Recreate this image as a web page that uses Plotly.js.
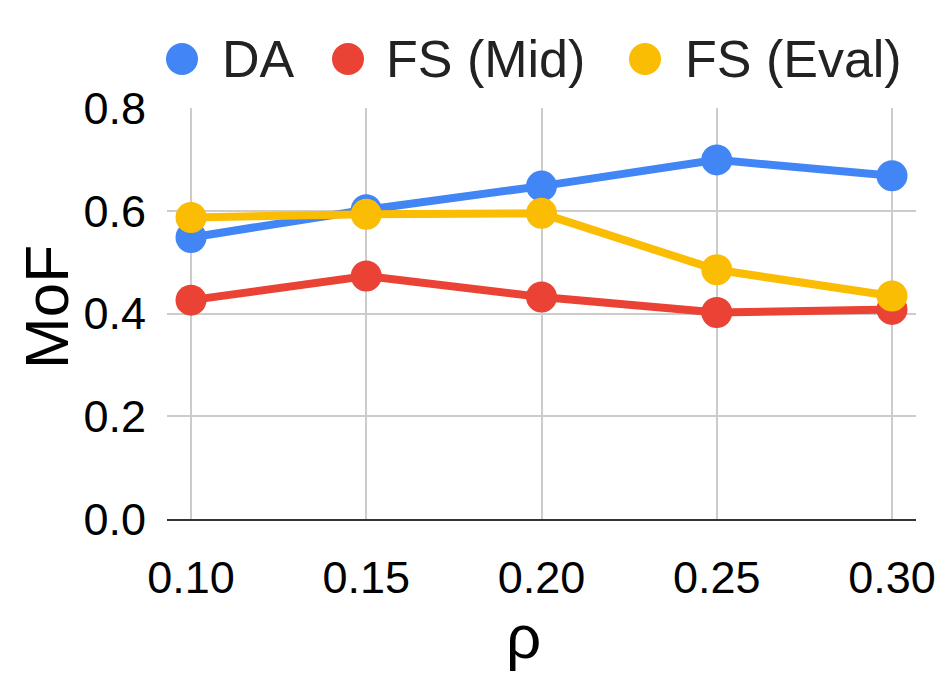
<!DOCTYPE html>
<html>
<head>
<meta charset="utf-8">
<script src="https://cdn.plot.ly/plotly-3.0.1.min.js"></script>
<style>
  html, body { margin: 0; padding: 0; background: #fff; }
  #chart { width: 952px; height: 673px; }
</style>
</head>
<body>
<div id="chart"></div>
<script>
// rho values on the x axis
var rho = ['0.10', '0.15', '0.20', '0.25', '0.30']

var seriesNames = ['DA', 'FS (Mid)', 'FS (Eval)']
var da = [0.548, 0.602, 0.648, 0.699, 0.668]
var fsMid = [0.426, 0.473, 0.432, 0.402, 0.408]
var fsEval = [0.587, 0.593, 0.595, 0.485, 0.434]

var xTitle = 'ρ'
var yTitle = 'MoF'

var colors = ['#4285F4', '#EA4335', '#FBBC04']
var font = 'Liberation Sans, Arial, sans-serif'

// plot box in pixels, used to place the hand-made legend and titles
var W = 952, H = 673
var margin = {l: 167, r: 36, t: 108, b: 154}
var plotW = W - margin.l - margin.r
var plotH = H - margin.t - margin.b
function px(x) { return (x - margin.l) / plotW }
function py(y) { return (H - margin.b - y) / plotH }

function makeTrace(name, values, color) {
  return {
    x: rho,
    y: values,
    name: name,
    type: 'scatter',
    mode: 'lines+markers',
    line: {color: color, width: 8},
    marker: {color: color, size: 31},
    cliponaxis: false,
    showlegend: false
  }
}

var traces = [
  makeTrace(seriesNames[0], da, colors[0]),
  makeTrace(seriesNames[1], fsMid, colors[1]),
  makeTrace(seriesNames[2], fsEval, colors[2])
]

// legend: big dots + labels (plotly caps legend markers at 16px)
var legendDots = [182, 348, 645]
var legendText = [221, 385, 684]
var legendY = 59
var shapes = []
var annotations = []
for (var i = 0; i < seriesNames.length; i++) {
  shapes.push({
    type: 'circle', xref: 'paper', yref: 'paper',
    xsizemode: 'pixel', ysizemode: 'pixel',
    xanchor: px(legendDots[i]), yanchor: py(legendY),
    x0: -16, x1: 16, y0: -16, y1: 16,
    fillcolor: colors[i], line: {width: 0}
  })
  annotations.push({
    xref: 'paper', yref: 'paper',
    x: px(legendText[i]) - 0.002, y: py(legendY),
    xanchor: 'left', yanchor: 'middle',
    text: seriesNames[i], showarrow: false,
    font: {family: font, size: 52, color: '#222222'}
  })
}

// axis titles (the x title sits a little left of the plot centre)
annotations.push({
  xref: 'paper', yref: 'paper',
  x: px(523), y: py(636),
  xanchor: 'center', yanchor: 'middle',
  text: xTitle, showarrow: false,
  font: {family: font, size: 62, color: '#000000'}
})
annotations.push({
  xref: 'paper', yref: 'paper',
  x: px(46), y: py(307),
  xanchor: 'center', yanchor: 'middle',
  textangle: -90,
  text: yTitle, showarrow: false,
  font: {family: font, size: 62, color: '#000000'}
})

var layout = {
  width: W,
  height: H,
  margin: margin,
  paper_bgcolor: '#ffffff',
  plot_bgcolor: '#ffffff',
  showlegend: false,
  font: {family: font, color: '#000000'},
  xaxis: {
    type: 'category',
    range: [-0.137, 4.137],
    showgrid: true,
    gridcolor: '#cccccc',
    gridwidth: 2,
    showline: true,
    linecolor: '#333333',
    linewidth: 2,
    ticks: '',
    ticklabelstandoff: 18,
    tickfont: {family: font, size: 45, color: '#000000'}
  },
  yaxis: {
    range: [0, 0.8],
    dtick: 0.2,
    tickformat: '.1f',
    showgrid: true,
    gridcolor: '#cccccc',
    gridwidth: 2,
    zeroline: false,
    showline: false,
    ticks: '',
    ticklabelstandoff: 20,
    tickfont: {family: font, size: 45, color: '#000000'}
  },
  shapes: shapes,
  annotations: annotations
}

Plotly.newPlot('chart', traces, layout, {displayModeBar: false, staticPlot: true})
</script>
</body>
</html>
